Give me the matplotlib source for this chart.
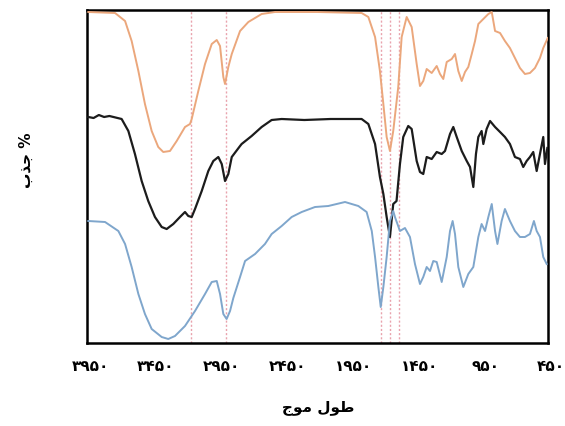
import numpy as np
import matplotlib
matplotlib.use("Agg")
import matplotlib.pyplot as plt
from matplotlib.transforms import ScaledTranslation

# طیف ها (عدد موج ، جذب نسبی)
wn_orange = [3940, 3737, 3661, 3611, 3560, 3510, 3459, 3409, 3371, 3320, 3269, 3206, 3168, 3155,
             3105, 3054, 3003, 2965, 2940, 2915, 2902, 2877, 2851, 2788, 2725, 2624, 2523, 2200,
             1865, 1814, 1763, 1726, 1700, 1675, 1650, 1625, 1587, 1561, 1523, 1485, 1447, 1422,
             1397, 1371, 1333, 1295, 1270, 1245, 1219, 1181, 1156, 1131, 1105, 1080, 1055, 1029,
             1004, 979, 941, 903, 877, 852, 814, 777, 739, 701, 663, 625, 587, 549, 511, 486, 452]
y_orange = [331, 330, 322, 302, 272, 239, 212, 196, 191, 192, 202, 216, 219, 224,
            252, 279, 299, 303, 297, 266, 259, 276, 289, 312, 321, 329, 331, 331,
            330, 326, 306, 272, 239, 206, 192, 212, 256, 306, 326, 316, 279, 257,
            262, 274, 270, 277, 269, 264, 281, 284, 289, 272, 262, 271, 276, 289,
            302, 319, 324, 329, 331, 312, 310, 302, 295, 285, 275, 269, 270, 275, 285, 295, 305]

wn_black = [3940, 3900, 3860, 3820, 3780, 3687, 3636, 3586, 3535, 3485, 3434, 3383, 3345, 3295,
            3244, 3206, 3181, 3155, 3130, 3079, 3029, 2991, 2953, 2927, 2902, 2877, 2851, 2788,
            2776, 2700, 2624, 2548, 2472, 2300, 2100, 1865, 1814, 1763, 1726, 1700, 1675, 1650,
            1625, 1600, 1574, 1549, 1511, 1485, 1447, 1422, 1397, 1371, 1333, 1295, 1257, 1232,
            1194, 1169, 1143, 1105, 1067, 1042, 1017, 997, 979, 954, 941, 916, 890, 852, 814,
            777, 739, 701, 663, 638, 612, 587, 562, 536, 511, 486, 473, 455]
y_black = [226, 225, 228, 226, 227, 224, 212, 189, 162, 142, 126, 116, 114, 119,
           126, 131, 127, 126, 134, 152, 172, 182, 186, 179, 162, 169, 186, 197,
           199, 207, 216, 223, 224, 223, 224, 224, 219, 199, 166, 149, 126, 106,
           139, 142, 179, 206, 217, 214, 182, 171, 169, 186, 184, 191, 189, 192,
           209, 216, 206, 192, 182, 176, 156, 189, 206, 212, 199, 214, 222, 216, 211,
           206, 199, 186, 184, 176, 182, 186, 191, 172, 189, 206, 179, 195]

wn_blue = [3940, 3813, 3712, 3661, 3611, 3560, 3510, 3459, 3383, 3333, 3282, 3206, 3130, 3054,
           3003, 2965, 2940, 2915, 2890, 2864, 2839, 2788, 2750, 2674, 2599, 2548, 2472, 2396,
           2320, 2219, 2118, 1991, 1890, 1827, 1788, 1763, 1738, 1720, 1700, 1675, 1650, 1625,
           1612, 1574, 1536, 1498, 1460, 1422, 1397, 1371, 1346, 1321, 1295, 1257, 1219, 1194,
           1174, 1156, 1131, 1093, 1055, 1017, 979, 954, 928, 903, 877, 852, 834, 802, 777,
           739, 701, 663, 625, 587, 557, 536, 511, 486, 460]
y_blue = [122, 121, 112, 99, 76, 49, 29, 14, 6, 4, 7, 17, 32, 49,
          61, 62, 49, 29, 24, 32, 45, 66, 82, 89, 99, 109, 117, 126,
          131, 136, 137, 141, 137, 131, 112, 86, 56, 36, 56, 86, 122, 132,
          126, 112, 115, 106, 79, 59, 66, 76, 72, 82, 81, 61, 86, 112,
          122, 109, 76, 56, 69, 76, 106, 119, 112, 126, 139, 112, 99, 122, 134,
          122, 112, 106, 106, 109, 122, 112, 106, 86, 79]

guide_lines = [3160, 2895, 1718, 1650, 1581]

tick_values = [3950, 3450, 2950, 2450, 1950, 1450, 950, 450]
tick_labels = ["۳۹۵۰", "۳۴۵۰", "۲۹۵۰", "۲۴۵۰", "۱۹۵۰", "۱۴۵۰", "۹۵۰", "۴۵۰"]

# متن فارسی با شکل های نمایشی (matplotlib خودش شکل دهی نمی کند)
xlabel = "\uFE9D\uFEEE\uFEE3 \uFEDD\uFEEE\uFEC3"   # طول موج
ylabel = "\uFE8F\uFEAC\uFE9F %"                    # % جذب

plt.rcParams["font.family"] = ["DejaVu Sans"]

fig = plt.figure(figsize=(5.65, 4.27), dpi=100)
ax = fig.add_axes([87 / 565, 1 - 344 / 427, (548 - 87) / 565, (344 - 11) / 427])

for w in guide_lines:
    ax.axvline(w, color="#e9a3ad", lw=1.0, ls=(0, (1.5, 1.5)), zorder=1)

ax.plot(wn_orange, y_orange, color="#eba77c", lw=1.4, zorder=3)
ax.plot(wn_black, y_black, color="#1c1c1c", lw=1.6, zorder=3)
ax.plot(wn_blue, y_blue, color="#7fa6cc", lw=1.4, zorder=3)

ax.set_xlim(3950, 450)
ax.set_ylim(0, 333)
ax.set_xticks(tick_values)
ax.set_xticklabels(tick_labels, fontsize=11, fontweight="bold")
ax.set_yticks([])
ax.tick_params(axis="x", length=0, pad=11)
# برچسب ها در مرجع کمی به راست جابه جا شده اند
shift = ScaledTranslation(3 / 100, 0, fig.dpi_scale_trans)
for lab in ax.get_xticklabels():
    lab.set_transform(lab.get_transform() + shift)
for s in ax.spines.values():
    s.set_linewidth(1.8)
    s.set_color("black")

fig.text(318 / 565, 1 - 408 / 427, xlabel, ha="center", va="center",
         fontsize=11, fontweight="bold")
fig.text(26 / 565, 1 - 160 / 427, ylabel, ha="center", va="center",
         fontsize=11, fontweight="bold", rotation=90)

fig.savefig("out.png", dpi=100)
